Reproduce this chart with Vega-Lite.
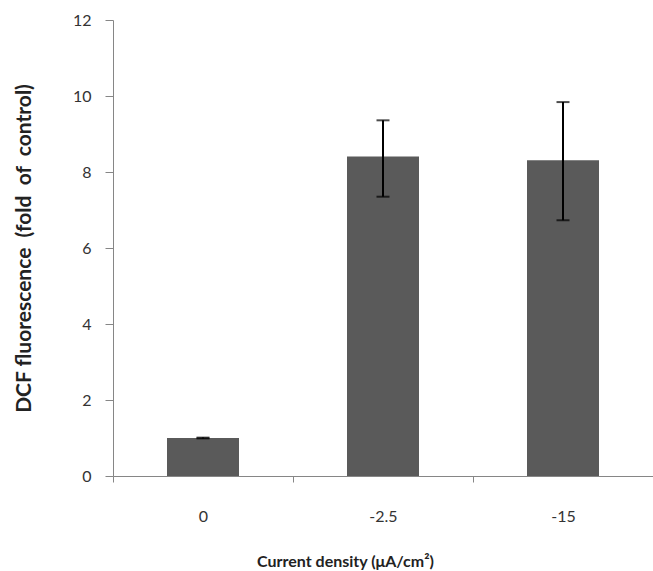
{
  "$schema": "https://vega.github.io/schema/vega-lite/v6.json",
  "width": 540,
  "height": 456,
  "autosize": {"type": "none"},
  "padding": {"left": 113, "top": 20, "right": 0, "bottom": 95},
  "background": "white",
  "config": {"view": {"stroke": null}, "font": "Lato"},
  "data": {"values": [
    {"density": "0", "value": 1.0, "lo": 0.99, "hi": 1.01},
    {"density": "-2.5", "value": 8.41, "lo": 7.35, "hi": 9.36},
    {"density": "-15", "value": 8.31, "lo": 6.73, "hi": 9.84}
  ]},
  "encoding": {
    "x": {
      "field": "density", "type": "nominal", "sort": null,
      "scale": {"paddingInner": 0, "paddingOuter": 0},
      "axis": {
        "title": "Current density (μA/cm²)",
        "labelAngle": 0, "tickBand": "extent",
        "domainColor": "#868686", "tickColor": "#868686", "tickSize": 6,
        "labelFont": "Lato", "labelFontSize": 16, "labelColor": "#333333", "labelPadding": 26,
        "titleFont": "Lato", "titleFontSize": 16, "titleFontWeight": "bold", "titleColor": "#222222",
        "titleX": 232, "titlePadding": 29
      }
    }
  },
  "layer": [
    {
      "mark": {"type": "bar", "width": {"band": 0.4}, "color": "#5a5a5a"},
      "encoding": {
        "y": {
          "field": "value", "type": "quantitative",
          "scale": {"domain": [0, 12], "nice": false},
          "axis": {
            "title": "DCF fluorescence\u00a0\u00a0(fold\u00a0 of\u00a0 control)",
            "values": [0, 2, 4, 6, 8, 10, 12], "grid": false,
            "domainColor": "#868686", "tickColor": "#868686", "tickSize": 8,
            "labelFont": "Lato", "labelFontSize": 16, "labelColor": "#333333", "labelPadding": 14,
            "titleFont": "Lato", "titleFontSize": 21, "titleFontWeight": "bold", "titleColor": "#222222",
            "titlePadding": 38
          }
        }
      }
    },
    {
      "mark": {"type": "rule", "color": "black", "strokeWidth": 2},
      "encoding": {
        "y": {"field": "lo", "type": "quantitative"},
        "y2": {"field": "hi"}
      }
    },
    {
      "mark": {"type": "tick", "color": "black", "thickness": 2, "size": 13, "orient": "horizontal"},
      "encoding": {"y": {"field": "lo", "type": "quantitative"}}
    },
    {
      "mark": {"type": "tick", "color": "black", "thickness": 2, "size": 13, "orient": "horizontal"},
      "encoding": {"y": {"field": "hi", "type": "quantitative"}}
    }
  ]
}
